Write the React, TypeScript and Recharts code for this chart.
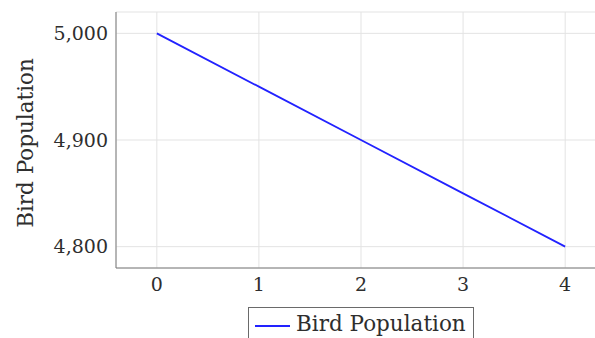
import React from "react";
import { LineChart, Line, XAxis, YAxis, CartesianGrid } from "recharts";

const years = [0, 1, 2, 3, 4];
const birds = [5000, 4950, 4900, 4850, 4800];
const xTicks = [0, 1, 2, 3, 4];
const yTicks = [4800, 4900, 5000];
const seriesName = "Bird Population";

const data = years.map((x, i) => ({ x, birds: birds[i] }));

const font = "'DejaVu Serif', 'Liberation Serif', serif";
const textColor = "#2e2e2e";
const frame = "#7a7a7a";
const blue = "#2222ff";

const fmt = (v: number) => v.toLocaleString("en-US");

const YLabel = (props: any) => {
  const vb = props.viewBox || {};
  const cy = vb.y + vb.height / 2 + 3;
  return (
    <text
      x={25}
      y={cy}
      transform={`rotate(-90, 25, ${cy})`}
      textAnchor="middle"
      dominantBaseline="central"
      fontFamily={font}
      fontSize={21.5}
      fill={textColor}
    >
      {seriesName}
    </text>
  );
};

export default function App() {
  return (
    <div style={{ position: "absolute", left: 0, top: 0, width: 595, height: 338, overflow: "hidden", background: "#fff" }}>
      <LineChart width={612} height={338} data={data} margin={{ top: 12, right: 6, bottom: 40, left: 0 }}>
        <CartesianGrid stroke="#e3e3e3" strokeWidth={1} />
        <XAxis
          dataKey="x"
          type="number"
          domain={[-0.4, 4.4]}
          ticks={xTicks}
          allowDataOverflow
          height={30}
          stroke={frame}
          tickLine={false}
          tickSize={0}
          tickMargin={10}
          tick={{ fontFamily: font, fontSize: 19, fill: textColor }}
        />
        <XAxis xAxisId="top" orientation="top" type="number" domain={[-0.4, 4.4]} height={0} tick={false} tickLine={false} stroke={frame} />
        <YAxis
          type="number"
          domain={[4780, 5020]}
          ticks={yTicks}
          allowDataOverflow
          width={116}
          stroke={frame}
          tickLine={false}
          tickSize={0}
          tickMargin={8}
          tickFormatter={fmt}
          tick={{ fontFamily: font, fontSize: 19, fill: textColor }}
          label={{ content: YLabel }}
        />
        <YAxis yAxisId="right" orientation="right" width={0} tick={false} tickLine={false} stroke={frame} />
        <Line
          type="linear"
          dataKey="birds"
          stroke={blue}
          strokeWidth={1.8}
          dot={false}
          isAnimationActive={false}
        />
      </LineChart>
      <div
        style={{
          position: "absolute",
          left: 248,
          top: 307,
          width: 226,
          height: 60,
          border: "1px solid #6a6a6a",
          boxSizing: "border-box",
          background: "#fff",
        }}
      >
        <div style={{ position: "absolute", left: 6, top: 17, width: 35, height: 2, background: blue }} />
        <div
          style={{
            position: "absolute",
            left: 47,
            top: 3,
            fontFamily: font,
            fontSize: 21.5,
            color: textColor,
            whiteSpace: "nowrap",
            lineHeight: "26px",
          }}
        >
          {seriesName}
        </div>
      </div>
    </div>
  );
}
